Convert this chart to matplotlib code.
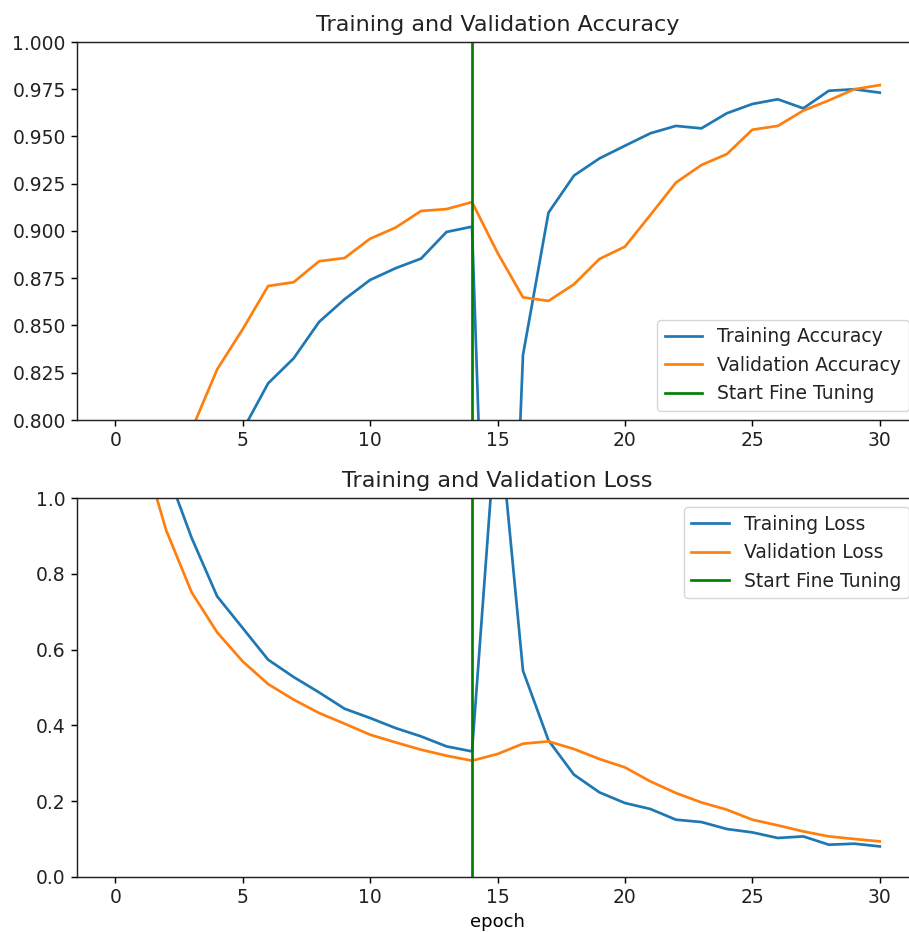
import matplotlib
matplotlib.use("Agg")
import matplotlib.pyplot as plt

epochs = list(range(31))
fine_tune_epoch = 14

acc = [0.52, 0.64, 0.71, 0.75, 0.775, 0.7945, 0.8194, 0.8326, 0.8519, 0.8639,
       0.8741, 0.8803, 0.8854, 0.8995, 0.9023,
       0.50, 0.8344, 0.9097, 0.9293, 0.9384, 0.9451, 0.9517, 0.9556, 0.9543,
       0.9623, 0.9672, 0.9697, 0.9649, 0.9742, 0.9750, 0.9732]
val_acc = [0.55, 0.68, 0.75, 0.7949, 0.8268, 0.8480, 0.8709, 0.8729, 0.8840, 0.8857,
           0.8959, 0.9018, 0.9106, 0.9116, 0.9153,
           0.8885, 0.8649, 0.8630, 0.8718, 0.8852, 0.8917, 0.9085, 0.9256, 0.9349,
           0.9407, 0.9536, 0.9556, 0.9637, 0.9691, 0.9750, 0.9772]
loss = [1.90, 1.40, 1.076, 0.8945, 0.7404, 0.657, 0.5733, 0.5277, 0.487, 0.444,
        0.4195, 0.393, 0.371, 0.3446, 0.3314,
        1.25, 0.5443, 0.3605, 0.270, 0.2233, 0.1952, 0.1794, 0.1512, 0.145,
        0.1266, 0.1177, 0.1029, 0.1071, 0.0852, 0.0879, 0.0807]
val_loss = [1.60, 1.145, 0.9146, 0.751, 0.6454, 0.569, 0.509, 0.468, 0.4327, 0.4045,
            0.3755, 0.3552, 0.3359, 0.320, 0.3069,
            0.3245, 0.3517, 0.3578, 0.3377, 0.3113, 0.2892, 0.2522, 0.2216, 0.1968,
            0.1776, 0.1512, 0.1362, 0.1203, 0.1071, 0.1003, 0.0939]

S = 1.3
plt.rcParams.update({
    'font.size': 13,
    'axes.titlesize': 16,
    'axes.labelsize': 13,
    'xtick.labelsize': 13.5,
    'ytick.labelsize': 13.5,
    'legend.fontsize': 13.5,
    'axes.linewidth': 0.8 * S,
    'xtick.major.width': 0.8 * S,
    'ytick.major.width': 0.8 * S,
    'xtick.major.size': 3.5 * S,
    'ytick.major.size': 3.5 * S,
    'lines.linewidth': 1.5 * S,
    'text.color': '#222222',
    'xtick.labelcolor': '#222222',
    'ytick.labelcolor': '#222222',
    'axes.edgecolor': '#222222',
})

W, H = 909, 932
fig = plt.figure(figsize=(W / 100, H / 100), dpi=100)
left = 77 / W
width = (918 - 77) / W
ax1 = fig.add_axes([left, 1 - 420 / H, width, 378 / H])
ax2 = fig.add_axes([left, 1 - 877 / H, width, 379 / H])

ax1.plot(epochs, acc, label='Training Accuracy')
ax1.plot(epochs, val_acc, label='Validation Accuracy')
ax1.set_ylim([0.8, 1])
ax1.plot([fine_tune_epoch, fine_tune_epoch], ax1.get_ylim(), label='Start Fine Tuning', color='green')
ax1.legend(loc='lower right')
ax1.set_title('Training and Validation Accuracy', pad=8)
ax1.set_xlim(-1.5, 31.5)

ax2.plot(epochs, loss, label='Training Loss')
ax2.plot(epochs, val_loss, label='Validation Loss')
ax2.set_ylim([0, 1.0])
ax2.plot([fine_tune_epoch, fine_tune_epoch], ax2.get_ylim(), label='Start Fine Tuning', color='green')
ax2.legend(loc='upper right')
ax2.set_title('Training and Validation Loss', pad=8)
ax2.set_xlabel('epoch')
ax2.set_xlim(-1.5, 31.5)

fig.savefig('out.png', dpi=100)
